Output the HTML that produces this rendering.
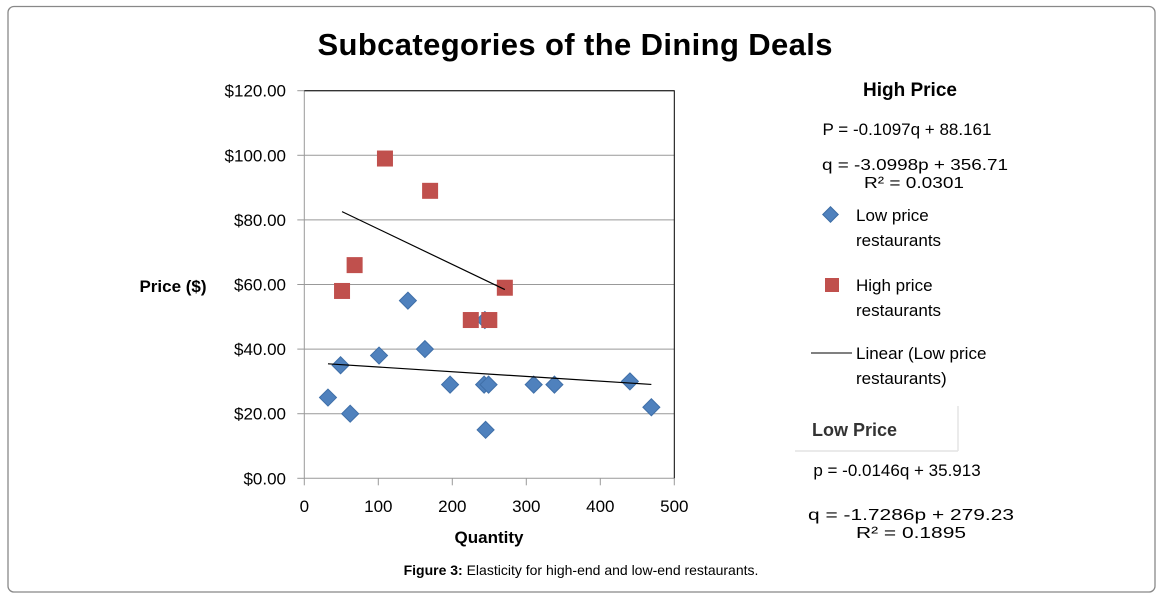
<!DOCTYPE html>
<html><head><meta charset="utf-8"><style>
body{margin:0;background:#fff;width:1163px;height:599px;overflow:hidden;font-family:"Liberation Sans",sans-serif}
svg text{font-family:"Liberation Sans",sans-serif}
</style></head><body>
<svg id="chart" width="1163" height="599" xmlns="http://www.w3.org/2000/svg">
<rect x="8" y="6.5" width="1147" height="585.5" rx="6" fill="#fff" stroke="#888" stroke-width="1.3"/>
<text x="575" y="55" text-anchor="middle" font-size="31" font-weight="bold" textLength="515">Subcategories of the Dining Deals</text>
<g id="grid"></g>
<g id="axes"></g>
<g id="marks"></g>
<text x="173" y="292" text-anchor="middle" font-size="17" font-weight="bold">Price ($)</text>
<text x="489" y="543" text-anchor="middle" font-size="17" font-weight="bold">Quantity</text>
<g font-size="17">
<text x="910" y="96" text-anchor="middle" font-weight="bold" font-size="19">High Price</text>
<text x="907" y="135" text-anchor="middle">P = -0.1097q + 88.161</text>
<text x="822" y="170" font-size="16" textLength="186" lengthAdjust="spacingAndGlyphs">q = -3.0998p + 356.71</text>
<text x="864" y="188" font-size="16" textLength="100" lengthAdjust="spacingAndGlyphs">R² = 0.0301</text>
<rect x="825" y="209" width="11" height="11" transform="rotate(45 830.5 214.5)" fill="#4f81bd" stroke="#3a6aa3"/>
<text x="856" y="221">Low price</text>
<text x="856" y="246">restaurants</text>
<rect x="825" y="278" width="14" height="14" fill="#c0504d"/>
<text x="856" y="291">High price</text>
<text x="856" y="316">restaurants</text>
<line x1="811" y1="353" x2="852" y2="353" stroke="#000" stroke-width="1"/>
<text x="856" y="359">Linear (Low price</text>
<text x="856" y="384">restaurants)</text>
<line x1="795" y1="451" x2="958" y2="451" stroke="#e4e4e4" stroke-width="1.5"/>
<line x1="958" y1="406" x2="958" y2="451" stroke="#e4e4e4" stroke-width="1.5"/>
<text x="812" y="436" font-weight="bold" font-size="18" fill="#333">Low Price</text>
<text x="897" y="476" text-anchor="middle">p = -0.0146q + 35.913</text>
<text x="808" y="520" font-size="16" textLength="206" lengthAdjust="spacingAndGlyphs">q = -1.7286p + 279.23</text>
<text x="856" y="538" font-size="16" textLength="110" lengthAdjust="spacingAndGlyphs">R² = 0.1895</text>
</g>
<text x="581" y="575" text-anchor="middle" font-size="14"><tspan font-weight="bold">Figure 3:</tspan> Elasticity for high-end and low-end restaurants.</text>
</svg>
<script>
const xTicks=[0,100,200,300,400,500];
const yTicks=[0,20,40,60,80,100,120];
const yTickLabels=["$0.00","$20.00","$40.00","$60.00","$80.00","$100.00","$120.00"];
const lowQ=[32,49,62,101,140,163,197,243,249,245,244,310,338,440,469];
const lowP=[25,35,20,38,55,40,29,29,29,15,49,29,29,30,22];
const highQ=[109,170,68,51,225,250,271];
const highP=[99,89,66,58,49,49,59];
const lowSlope=-0.0146, lowIntercept=35.913;
const highSlope=-0.1097, highIntercept=88.161;
const NS="http://www.w3.org/2000/svg";
const X0=304.3,X1=674.3,Y0=478.3,Y1=90.7;
const sx=v=>X0+(v-0)/(500-0)*(X1-X0);
const sy=v=>Y0-(v-0)/(120-0)*(Y0-Y1);
function mk(tag,attrs,parent){const e=document.createElementNS(NS,tag);for(const k in attrs)e.setAttribute(k,attrs[k]);document.getElementById(parent).appendChild(e);return e;}
yTicks.forEach((t,i)=>{
  if(t>0){const g=mk('line',{x1:X0,x2:X1,y1:sy(t),y2:sy(t),stroke:'#999','stroke-width':1},'grid');
  
  }
  const tk=mk('line',{x1:X0-7,x2:X0,y1:sy(t),y2:sy(t),stroke:'#999'},'axes');
  
  
  const l=mk('text',{x:286,y:sy(t)+6,'text-anchor':'end','font-size':17},'axes');l.textContent=yTickLabels[i];
  
  
});
xTicks.forEach(t=>{
  const tk=mk('line',{x1:sx(t),x2:sx(t),y1:Y0,y2:Y0+7,stroke:'#999'},'axes');
  
  
  const l=mk('text',{x:sx(t),y:512,'text-anchor':'middle','font-size':17},'axes');l.textContent=t;
  
  
});
const ya=mk('line',{x1:X0,x2:X0,y1:Y1,y2:Y0,stroke:'#999'},'axes');


const xa=mk('line',{x1:X0,x2:X1,y1:Y0,y2:Y0,stroke:'#999'},'axes');


const pb=mk('polyline',{points:`${X0},${Y1} ${X1},${Y1} ${X1},${Y0}`,fill:'none',stroke:'#000'},'axes');


lowQ.forEach((q,i)=>{
  const cx=sx(q),cy=sy(lowP[i]);
  const d=mk('polygon',{points:`${cx},${cy-8.5} ${cx+8.5},${cy} ${cx},${cy+8.5} ${cx-8.5},${cy}`,fill:'#4f81bd',stroke:'#3f6fa8','stroke-width':1},'marks');
  
  
});
highQ.forEach((q,i)=>{
  const r=mk('rect',{x:sx(q)-8,y:sy(highP[i])-8,width:16,height:16,fill:'#c0504d'},'marks');
  
  
});
const lmin=Math.min(...lowQ),lmax=Math.max(...lowQ);
const t1=mk('line',{x1:sx(lmin),y1:sy(lowSlope*lmin+lowIntercept),x2:sx(lmax),y2:sy(lowSlope*lmax+lowIntercept),stroke:'#000','stroke-width':1.2},'marks');


const hmin=Math.min(...highQ),hmax=Math.max(...highQ);
const t2=mk('line',{x1:sx(hmin),y1:sy(highSlope*hmin+highIntercept),x2:sx(hmax),y2:sy(highSlope*hmax+highIntercept),stroke:'#000','stroke-width':1.2},'marks');


</script>
</body></html>
